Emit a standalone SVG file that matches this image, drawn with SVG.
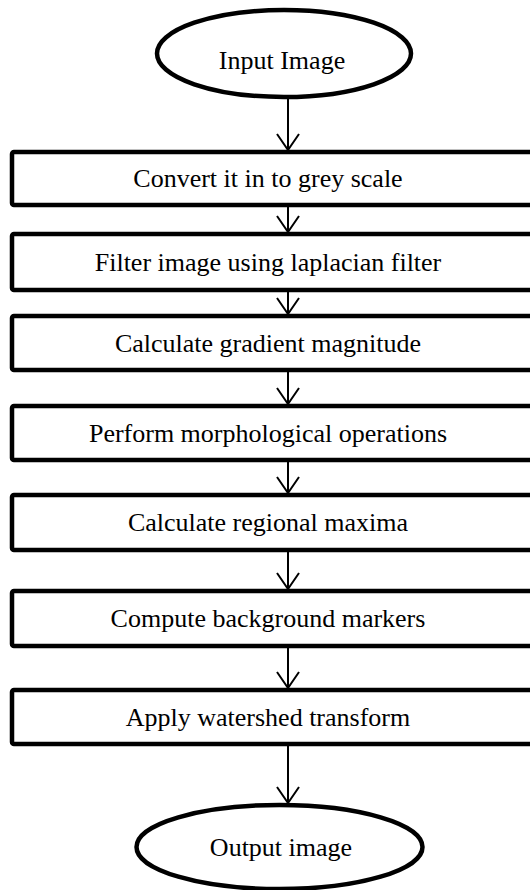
<svg xmlns="http://www.w3.org/2000/svg" width="530" height="890" viewBox="0 0 530 890">
<style>
.n{fill:#fff;stroke:#000;stroke-width:4.5}
.t{font-family:"Liberation Serif","Times New Roman",serif;font-size:26px;fill:#000;text-anchor:middle}
.c{stroke:#000;stroke-width:2;fill:none}
</style>
<defs>
<marker id="ah" markerUnits="userSpaceOnUse" markerWidth="20" markerHeight="26" refX="17" refY="12" orient="auto" viewBox="0 0 20 24">
<path d="M1,1 L17,12 L1,23" fill="none" stroke="#000" stroke-width="2"/>
</marker>
</defs>
<rect width="530" height="890" fill="#fff"/>
<g id="connectors">
<line class="c" x1="288" y1="99" x2="288" y2="150" marker-end="url(#ah)"/>
<line class="c" x1="288" y1="207" x2="288" y2="232" marker-end="url(#ah)"/>
<line class="c" x1="288" y1="292" x2="288" y2="314" marker-end="url(#ah)"/>
<line class="c" x1="288" y1="372" x2="288" y2="404" marker-end="url(#ah)"/>
<line class="c" x1="288" y1="462" x2="288" y2="493" marker-end="url(#ah)"/>
<line class="c" x1="288" y1="552" x2="288" y2="589" marker-end="url(#ah)"/>
<line class="c" x1="288" y1="648" x2="288" y2="688" marker-end="url(#ah)"/>
<line class="c" x1="288" y1="746" x2="288" y2="803" marker-end="url(#ah)"/>
</g>
<g id="input">
<ellipse class="n" cx="284" cy="53.5" rx="127" ry="43.5"/>
<text class="t" x="282" y="69">Input Image</text>
</g>
<g id="step1">
<rect class="n" x="12" y="152" width="530" height="53" rx="2"/>
<text class="t" x="268" y="187">Convert it in to grey scale</text>
</g>
<g id="step2">
<rect class="n" x="12" y="234" width="530" height="56" rx="2"/>
<text class="t" x="268" y="271">Filter image using laplacian filter</text>
</g>
<g id="step3">
<rect class="n" x="12" y="316" width="530" height="54" rx="2"/>
<text class="t" x="268" y="352">Calculate gradient magnitude</text>
</g>
<g id="step4">
<rect class="n" x="12" y="406" width="530" height="54" rx="2"/>
<text class="t" x="268" y="442">Perform morphological operations</text>
</g>
<g id="step5">
<rect class="n" x="12" y="495" width="530" height="55" rx="2"/>
<text class="t" x="268" y="531">Calculate regional maxima</text>
</g>
<g id="step6">
<rect class="n" x="12" y="591" width="530" height="55" rx="2"/>
<text class="t" x="268" y="627">Compute background markers</text>
</g>
<g id="step7">
<rect class="n" x="12" y="690" width="530" height="54" rx="2"/>
<text class="t" x="268" y="726">Apply watershed transform</text>
</g>
<g id="output">
<ellipse class="n" cx="279.5" cy="847" rx="143" ry="42"/>
<text class="t" x="281" y="856">Output image</text>
</g>
</svg>
